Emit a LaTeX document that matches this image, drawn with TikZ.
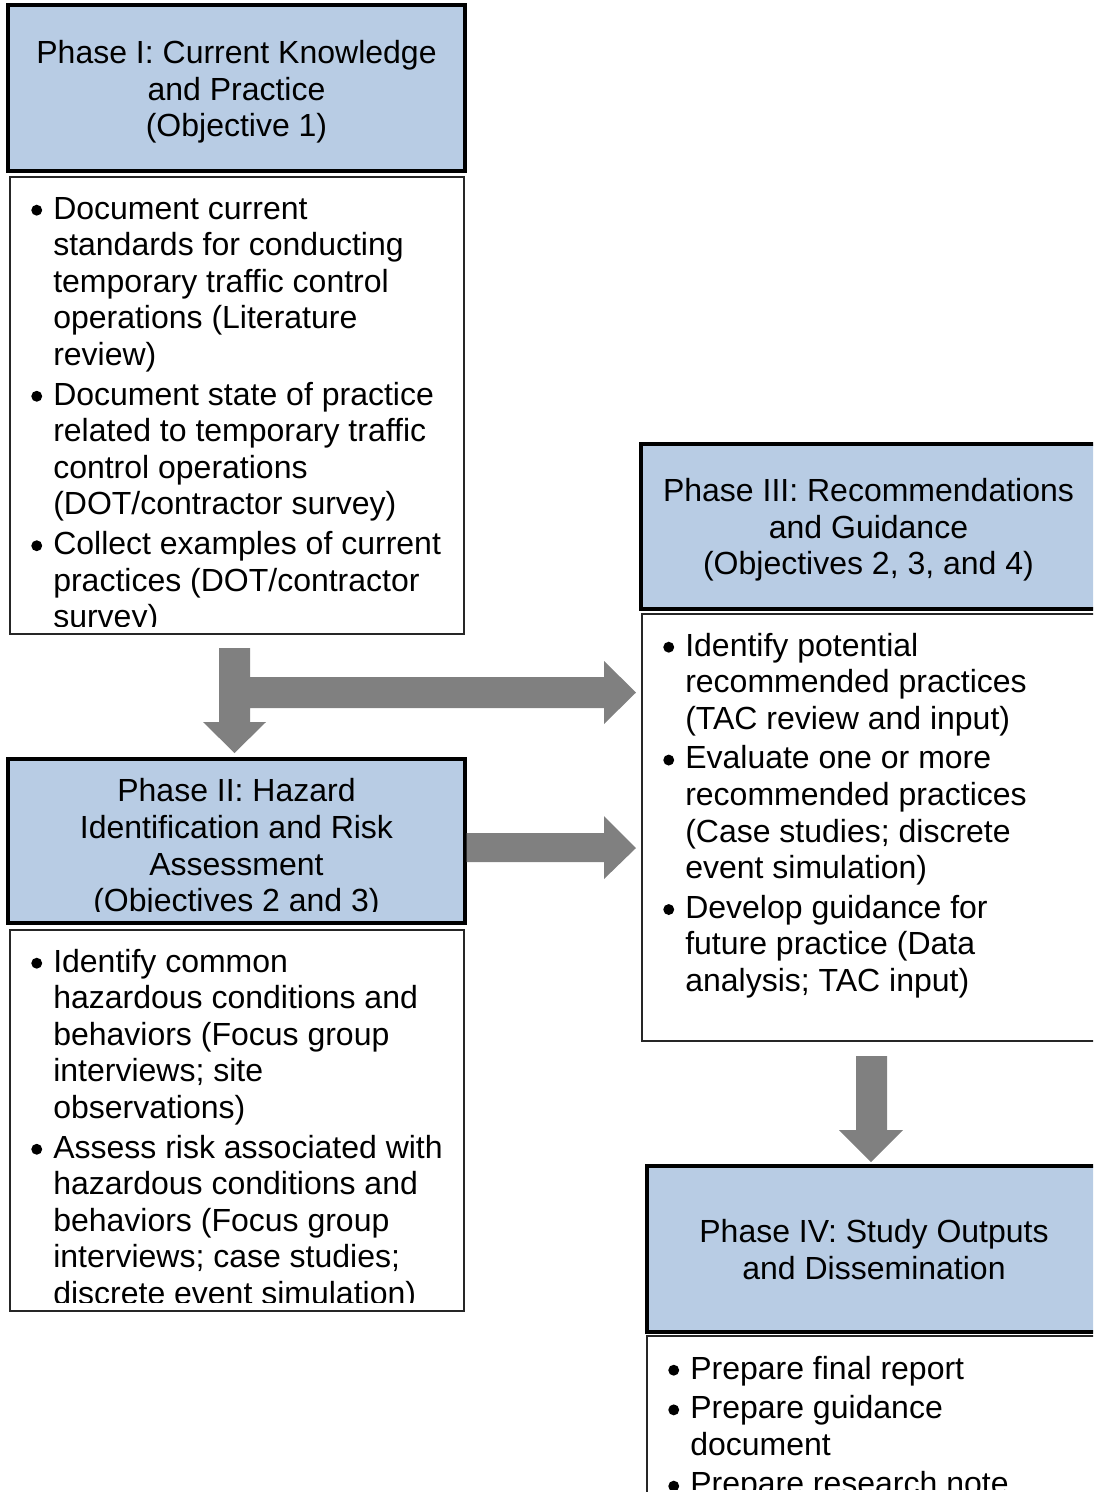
\documentclass[tikz,border=0pt]{standalone}
\usepackage{fontspec}
\setmainfont{Liberation Sans}
\usetikzlibrary{fit}
\definecolor{hdrblue}{HTML}{B8CCE4}
\definecolor{arrowgray}{HTML}{808080}
\newcommand\bulletdot{\tikz[x=1pt,y=1pt,baseline=0pt]\fill (4.1pt,6.6pt) circle[radius=4.1pt];}
\newcommand\BFirst[1]{\hbox{\makebox[16.5pt][l]{\bulletdot}#1}}
\newcommand\BCont[1]{\hbox{\hspace*{16.5pt}#1}}
\newcommand\BGap{\vskip2.3pt}
\newcommand\BodyText[1]{\vtop{\fontsize{24}{27.45}\selectfont #1}}
\tikzset{
  hdrbox/.style={draw=black, line width=2.6pt, fill=hdrblue, inner sep=0pt},
  bodybox/.style={draw=black!85, line width=1.1pt, fill=white, inner sep=0pt},
  hdrtext/.style={align=center, inner sep=0pt, font=\fontsize{24}{27.45}\selectfont},
  bodytext/.style={anchor=base west, inner sep=0pt},
  blockarrow/.style={fill=arrowgray, draw=none}
}
\begin{document}
\begin{tikzpicture}[x=0.75pt, y=-0.75pt]
\clip (0,0) rectangle (1093,1492);
\fill[white] (0,0) rectangle (1093,1492);

% ---------- Phase I ----------
\node[hdrbox, fit={(8,5) (465,171)}] (p1h) {};
\node[hdrtext, yshift=-3pt] (p1ht) at (p1h.center) {Phase I: Current Knowledge\\and Practice\\(Objective 1)};
\node[bodybox, fit={(10,177) (464,634)}] (p1b) {};
\begin{scope}
\clip (10,177) rectangle (464,626);
\node[bodytext] (p1bt) at (31,219) {\BodyText{%
\BFirst{Document current}
\BCont{standards for conducting}
\BCont{temporary traffic control}
\BCont{operations (Literature}
\BCont{review)}
\BGap
\BFirst{Document state of practice}
\BCont{related to temporary traffic}
\BCont{control operations}
\BCont{(DOT/contractor survey)}
\BGap
\BFirst{Collect examples of current}
\BCont{practices (DOT/contractor}
\BCont{survey)}}};
\end{scope}

% ---------- Phase II ----------
\node[hdrbox, fit={(8,759) (465,923)}] (p2h) {};
\begin{scope}
\clip (8,759) rectangle (465,911);
\node[hdrtext] (p2ht) at (236.5,848.5) {Phase II: Hazard\\Identification and Risk\\Assessment\\(Objectives 2 and 3)};
\end{scope}
\node[bodybox, fit={(10,930) (464,1311)}] (p2b) {};
\begin{scope}
\clip (10,930) rectangle (464,1302);
\node[bodytext] (p2bt) at (31,972) {\BodyText{%
\BFirst{Identify common}
\BCont{hazardous conditions and}
\BCont{behaviors (Focus group}
\BCont{interviews; site}
\BCont{observations)}
\BGap
\BFirst{Assess risk associated with}
\BCont{hazardous conditions and}
\BCont{behaviors (Focus group}
\BCont{interviews; case studies;}
\BCont{discrete event simulation)}}};
\end{scope}

% ---------- Phase III ----------
\node[hdrbox, fit={(641,444) (1096,609)}] (p3h) {};
\node[hdrtext, yshift=-2.6pt] (p3ht) at (p3h.center) {Phase III: Recommendations\\and Guidance\\(Objectives 2, 3, and 4)};
\node[bodybox, fit={(642,614) (1100,1041)}] (p3b) {};
\node[bodytext] (p3bt) at (663,656) {\BodyText{%
\BFirst{Identify potential}
\BCont{recommended practices}
\BCont{(TAC review and input)}
\BGap
\BFirst{Evaluate one or more}
\BCont{recommended practices}
\BCont{(Case studies; discrete}
\BCont{event simulation)}
\BGap
\BFirst{Develop guidance for}
\BCont{future practice (Data}
\BCont{analysis; TAC input)}}};

% ---------- Phase IV ----------
\node[hdrbox, fit={(647,1166) (1101,1332)}] (p4h) {};
\node[hdrtext, yshift=-0.4pt] (p4ht) at (p4h.center) {Phase IV: Study Outputs\\and Dissemination};
\node[bodybox, fit={(647,1336) (1100,1510)}] (p4b) {};
\begin{scope}
\clip (647,1336) rectangle (1093,1489);
\node[bodytext] (p4bt) at (668,1379) {\BodyText{%
\BFirst{Prepare final report}
\BGap
\BFirst{Prepare guidance}
\BCont{document}
\BGap
\BFirst{Prepare research note}}};
\end{scope}

% ---------- Block arrows ----------
\coordinate (a1start) at (234.5,648);
\coordinate (a1down) at (234.5,753);
\coordinate (a1right) at (636,692.5);
\fill[blockarrow] (219,648) -- (250,648) -- (250,677) -- (604,677) -- (604,661)
  -- (a1right) -- (604,724) -- (604,708) -- (250,708) -- (250,722) -- (266,722)
  -- (a1down) -- (203,722) -- (219,722) -- cycle;

\coordinate (a2tip) at (636,848);
\fill[blockarrow] (p2h.east |- 0,833) -- (604,833) -- (604,816) -- (a2tip)
  -- (604,879) -- (604,862) -- (p2h.east |- 0,862) -- cycle;

\coordinate (a3tip) at (871,1162);
\fill[blockarrow] (856,1056) -- (887,1056) -- (887,1130) -- (903,1130) -- (a3tip)
  -- (839,1130) -- (856,1130) -- cycle;
\end{tikzpicture}
\end{document}
